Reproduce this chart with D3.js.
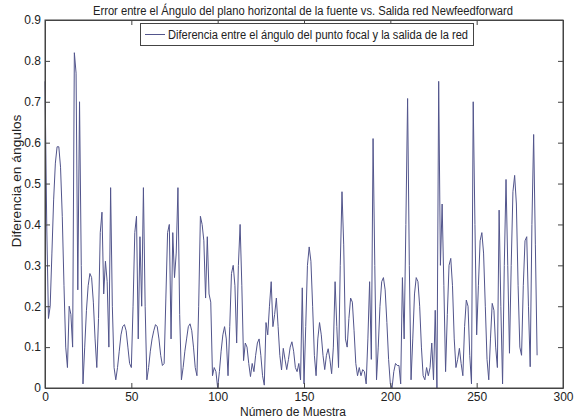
<!DOCTYPE html>
<html lang="es">
<head>
<meta charset="utf-8">
<title>Error entre el Ángulo del plano horizontal</title>
<script src="https://cdn.jsdelivr.net/npm/d3@7"></script>
<style>
  body { margin: 0; background: #fff; }
  text { font-family: "Liberation Sans", Arial, sans-serif; fill: #222; }
</style>
</head>
<body>
<script>
// values, one per sample (sample 0 .. 285)
var diffValues = [
  0.75, 0.40, 0.17, 0.20, 0.33, 0.46, 0.55, 0.59, 0.59, 0.54,
  0.42, 0.25, 0.10, 0.05, 0.20, 0.18, 0.10, 0.82, 0.77, 0.24,
  0.70, 0.30, 0.01, 0.10, 0.19, 0.25, 0.28, 0.27, 0.21, 0.12,
  0.05, 0.17, 0.38, 0.43, 0.23, 0.31, 0.26, 0.10, 0.49, 0.20,
  0.05, 0.02, 0.05, 0.09, 0.13, 0.15, 0.155, 0.14, 0.10, 0.06,
  0.05, 0.20, 0.38, 0.42, 0.12, 0.37, 0.20, 0.49, 0.20, 0.02,
  0.05, 0.09, 0.12, 0.14, 0.155, 0.15, 0.12, 0.08, 0.055, 0.06,
  0.22, 0.38, 0.40, 0.12, 0.38, 0.27, 0.33, 0.49, 0.18, 0.02,
  0.05, 0.09, 0.12, 0.15, 0.157, 0.14, 0.10, 0.05, 0.03, 0.20,
  0.42, 0.40, 0.36, 0.22, 0.37, 0.23, 0.21, 0.03, 0.05, 0.04,
  0.00, 0.04, 0.09, 0.13, 0.15, 0.12, 0.03, 0.15, 0.28, 0.30,
  0.25, 0.11, 0.30, 0.40, 0.25, 0.067, 0.11, 0.10, 0.06, 0.028,
  0.06, 0.04, 0.08, 0.11, 0.12, 0.08, 0.03, 0.007, 0.16, 0.13,
  0.20, 0.26, 0.15, 0.18, 0.22, 0.15, 0.08, 0.044, 0.097, 0.07,
  0.045, 0.07, 0.10, 0.113, 0.09, 0.05, 0.04, 0.06, 0.02, 0.245,
  0.01, 0.15, 0.30, 0.345, 0.31, 0.20, 0.08, 0.03, 0.12, 0.16,
  0.13, 0.08, 0.045, 0.08, 0.096, 0.07, 0.035, 0.10, 0.26, 0.15,
  0.05, 0.30, 0.48, 0.35, 0.12, 0.10, 0.17, 0.22, 0.21, 0.14,
  0.06, 0.03, 0.05, 0.03, 0.045, 0.04, 0.01, 0.12, 0.26, 0.07,
  0.61, 0.30, 0.02, 0.10, 0.20, 0.26, 0.27, 0.24, 0.16, 0.07,
  0.01, 0.00, 0.04, 0.06, 0.055, 0.055, 0.01, 0.27, 0.12, 0.40,
  0.708, 0.30, 0.02, 0.12, 0.23, 0.27, 0.26, 0.20, 0.10, 0.03,
  0.02, 0.05, 0.03, 0.05, 0.11, 0.02, 0.19, 0.00, 0.75, 0.30,
  0.45, 0.25, 0.04, 0.18, 0.30, 0.317, 0.25, 0.12, 0.05, 0.07,
  0.097, 0.06, 0.03, 0.15, 0.215, 0.20, 0.08, 0.01, 0.70, 0.40,
  0.13, 0.25, 0.36, 0.38, 0.33, 0.20, 0.07, 0.02, 0.12, 0.207,
  0.19, 0.10, 0.05, 0.435, 0.20, 0.01, 0.30, 0.51, 0.30, 0.085,
  0.30, 0.48, 0.52, 0.45, 0.25, 0.10, 0.08, 0.25, 0.36, 0.37,
  0.20, 0.052, 0.40, 0.62, 0.35, 0.08
];
var xTicks = [0, 50, 100, 150, 200, 250, 300];
var yTicks = [0, 0.1, 0.2, 0.3, 0.4, 0.5, 0.6, 0.7, 0.8, 0.9];
var titleText = "Error entre el Ángulo del plano horizontal de la fuente vs. Salida red Newfeedforward";
var legendText = "Diferencia entre el ángulo del punto focal y la salida de la red";
var xLabel = "Número de Muestra";
var yLabel = "Diferencia en ángulos";

var w = 580, h = 419;
// plot box (note: "top" is reserved on window, so use plot* names)
var plotL = 45, plotR = 563, plotT = 20, plotB = 388;
var lineColor = "#52558c";

var svg = d3.select("body").append("svg")
    .attr("width", w)
    .attr("height", h);

var x = d3.scaleLinear().domain([0, 300]).range([plotL, plotR]);
var y = d3.scaleLinear().domain([0, 0.9]).range([plotB, plotT]);

// data line
var line = d3.line()
    .x(function(d, i) { return x(i); })
    .y(function(d) { return y(d); });

svg.append("path")
    .datum(diffValues)
    .attr("d", line)
    .attr("fill", "none")
    .attr("stroke", lineColor)
    .attr("stroke-width", 1);

// axes, matlab style: ticks inside on all four sides
var tickLen = 5;
svg.append("g")
    .attr("transform", "translate(0," + plotB + ")")
    .call(d3.axisBottom(x).tickValues(xTicks).tickSizeInner(-tickLen).tickSizeOuter(0).tickPadding(4))
    .call(function(g) { g.selectAll("text").attr("font-size", "12px"); });

svg.append("g")
    .attr("transform", "translate(0," + plotT + ")")
    .call(d3.axisTop(x).tickValues(xTicks).tickSizeInner(-tickLen).tickSizeOuter(0).tickFormat(""));

svg.append("g")
    .attr("transform", "translate(" + plotL + ",0)")
    .call(d3.axisLeft(y).tickValues(yTicks).tickSizeInner(-tickLen).tickSizeOuter(0).tickPadding(4)
        .tickFormat(function(d) { return d === 0 ? "0" : d3.format(".1f")(d); }))
    .call(function(g) { g.selectAll("text").attr("font-size", "12px"); });

svg.append("g")
    .attr("transform", "translate(" + plotR + ",0)")
    .call(d3.axisRight(y).tickValues(yTicks).tickSizeInner(-tickLen).tickSizeOuter(0).tickFormat(""));

svg.selectAll(".domain").attr("stroke", "#444");
svg.selectAll(".tick line").attr("stroke", "#444");
svg.selectAll(".tick text").attr("fill", "#222").attr("font-family", "Liberation Sans, Arial, sans-serif");

// box
svg.append("rect")
    .attr("x", plotL).attr("y", plotT)
    .attr("width", plotR - plotL).attr("height", plotB - plotT)
    .attr("fill", "none").attr("stroke", "#444").attr("stroke-width", 1);

// title
svg.append("text")
    .attr("x", 93).attr("y", 15)
    .attr("font-size", "12px")
    .attr("textLength", 420)
    .attr("lengthAdjust", "spacingAndGlyphs")
    .text(titleText);

// legend
var lg = svg.append("g");
lg.append("rect")
    .attr("x", 140.5).attr("y", 23.5)
    .attr("width", 333).attr("height", 22)
    .attr("fill", "#fff").attr("stroke", "#444");
lg.append("line")
    .attr("x1", 145).attr("x2", 165)
    .attr("y1", 34.5).attr("y2", 34.5)
    .attr("stroke", lineColor);
lg.append("text")
    .attr("x", 168).attr("y", 39)
    .attr("font-size", "12px")
    .attr("textLength", 300)
    .attr("lengthAdjust", "spacingAndGlyphs")
    .text(legendText);

// axis labels
svg.append("text")
    .attr("x", 293).attr("y", 416)
    .attr("text-anchor", "middle")
    .attr("font-size", "12px")
    .attr("textLength", 106)
    .attr("lengthAdjust", "spacingAndGlyphs")
    .text(xLabel);

svg.append("text")
    .attr("transform", "translate(21,181) rotate(-90)")
    .attr("text-anchor", "middle")
    .attr("font-size", "12px")
    .attr("textLength", 133)
    .attr("lengthAdjust", "spacingAndGlyphs")
    .text(yLabel);
</script>
</body>
</html>
